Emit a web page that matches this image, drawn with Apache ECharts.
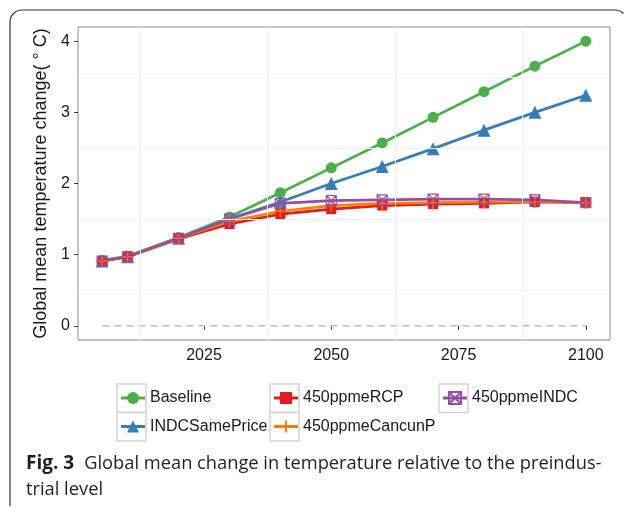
<!DOCTYPE html>
<html>
<head>
<meta charset="utf-8">
<script src="https://cdn.jsdelivr.net/npm/echarts@6/dist/echarts.min.js"></script>
<style>
  html, body { margin: 0; padding: 0; background: #fff; }
  #chart { width: 630px; height: 509px; }
</style>
</head>
<body>
<div id="chart"></div>
<script>
const years = [2005, 2010, 2020, 2030, 2040, 2050, 2060, 2070, 2080, 2090, 2100]
const baseline = [0.92, 0.98, 1.24, 1.53, 1.87, 2.22, 2.57, 2.93, 3.29, 3.65, 4.0]
const indcSamePrice = [0.91, 0.97, 1.23, 1.50, 1.74, 2.00, 2.24, 2.49, 2.75, 3.00, 3.24]
const rcp450 = [0.91, 0.97, 1.22, 1.43, 1.57, 1.64, 1.69, 1.71, 1.72, 1.74, 1.73]
const cancunP450 = [0.91, 0.97, 1.23, 1.47, 1.61, 1.69, 1.72, 1.73, 1.74, 1.74, 1.73]
const indc450 = [0.91, 0.97, 1.23, 1.50, 1.72, 1.76, 1.77, 1.78, 1.78, 1.77, 1.73]
const zeroLine = [[2005, 0], [2100, 0]]

const xTicks = [2025, 2050, 2075, 2100]
const yTicks = [0, 1, 2, 3, 4]
const xMinorGrid = [2012.5, 2037.5, 2062.5, 2087.5]
const yMinorGrid = [0.5, 1.5, 2.5, 3.5]

const legendCol1 = ['Baseline', 'INDCSamePrice']
const legendCol2 = ['450ppmeRCP', '450ppmeCancunP']
const legendCol3 = ['450ppmeINDC']

const caption = 'Global mean change in temperature relative to the preindus-'
const caption2 = 'trial level'

const font = 'Liberation Sans, Arial, sans-serif'
const capFont = 'Open Sans, sans-serif'
const pair = (vals) => years.map((y, i) => [y, vals[i]])

const chart = echarts.init(document.getElementById('chart'))

const lineSeries = (name, vals, color, symbol, size, itemStyle) => ({
    name: name,
    type: 'line',
    data: pair(vals),
    symbol: symbol,
    symbolSize: size,
    color: color,
    lineStyle: { color: color, width: 2.7 },
    itemStyle: itemStyle || { color: color },
    emphasis: { disabled: true }
})

const legendBase = {
    orient: 'vertical',
    itemWidth: 24,
    itemHeight: 15,
    itemGap: 8.5,
    itemTextGap: 6,
    padding: 0,
    top: 388,
    lineStyle: { width: 3 },
    textStyle: { fontFamily: font, fontSize: 16, color: '#1a1a1a', lineHeight: 20 }
}

const keyBox = (x, y) => ({
    type: 'rect', z: 0, silent: true,
    shape: { x: x, y: y, width: 29, height: 28.5 },
    style: { fill: '#fff', stroke: '#d4d4d4', lineWidth: 1.5 }
})

const frameStyle = { fill: 'none', stroke: '#333', lineWidth: 1.2 }

const option = {
    backgroundColor: '#fff',
    animation: false,
    grid: {
        left: 78, top: 27, right: 20, bottom: 169,
        show: true, borderColor: '#8c8c8c', borderWidth: 1
    },
    xAxis: {
        type: 'value',
        min: 2000.25,
        max: 2104.75,
        axisLine: { show: false },
        splitLine: { show: false },
        axisTick: { show: true, length: 4, customValues: xTicks, lineStyle: { color: '#333' } },
        axisLabel: {
            customValues: xTicks, margin: 8,
            formatter: v => String(v),
            fontFamily: font, fontSize: 16, color: '#1a1a1a'
        }
    },
    yAxis: {
        type: 'value',
        min: -0.2,
        max: 4.2,
        name: 'Global mean temperature change( \u00b0 C)',
        nameLocation: 'middle',
        nameGap: 24,
        nameTextStyle: { fontFamily: font, fontSize: 18, color: '#1a1a1a' },
        axisLine: { show: false },
        splitLine: { show: false },
        axisTick: { show: true, length: 4, customValues: yTicks, lineStyle: { color: '#333' } },
        axisLabel: {
            customValues: yTicks, margin: 8,
            fontFamily: font, fontSize: 16, color: '#1a1a1a'
        }
    },
    legend: [
        Object.assign({}, legendBase, { left: 119.5, data: legendCol1 }),
        Object.assign({}, legendBase, { left: 272.5, data: legendCol2 }),
        Object.assign({}, legendBase, { left: 441.5, data: legendCol3 })
    ],
    graphic: [
        // figure frame: left edge, top edge, rounded corners
        { type: 'line', silent: true, z: 0, shape: { x1: 10, y1: 22, x2: 10, y2: 506 }, style: frameStyle },
        { type: 'line', silent: true, z: 0, shape: { x1: 22, y1: 10, x2: 615, y2: 10 }, style: frameStyle },
        { type: 'arc', silent: true, z: 0, shape: { cx: 22, cy: 22, r: 12, startAngle: Math.PI, endAngle: Math.PI * 1.5 }, style: frameStyle },
        { type: 'arc', silent: true, z: 0, shape: { cx: 615, cy: 22, r: 12, startAngle: -Math.PI / 2, endAngle: -Math.PI / 4 }, style: frameStyle },
        // legend key boxes
        keyBox(117, 384), keyBox(117, 412.5),
        keyBox(270, 384), keyBox(270, 412.5),
        keyBox(439, 384),
        // caption
        {
            type: 'text', left: 26, top: 454, silent: true,
            style: {
                text: '{b|Fig. 3}{r|' + caption + '}\n{r|' + caption2 + '}',
                rich: {
                    b: { fontFamily: capFont, fontWeight: 'bold', fontSize: 19, lineHeight: 26, fill: '#231f20', padding: [0, 10, 0, 0] },
                    r: { fontFamily: capFont, fontSize: 18.3, lineHeight: 26, fill: '#231f20' }
                }
            }
        }
    ],
    series: [
        {
            name: 'zero',
            type: 'line',
            data: zeroLine,
            symbol: 'none',
            lineStyle: { color: '#bdbdbd', width: 1.5, type: [7, 5] },
            silent: true,
            z: 1,
            markLine: {
                silent: true,
                symbol: 'none',
                label: { show: false },
                lineStyle: { color: '#f2f2f2', width: 1, type: 'solid' },
                data: xMinorGrid.map(v => ({ xAxis: v })).concat(yMinorGrid.map(v => ({ yAxis: v })))
            }
        },
        lineSeries('Baseline', baseline, '#4DAF4A', 'circle', 11),
        lineSeries('INDCSamePrice', indcSamePrice, '#377EB8', 'triangle', 13),
        lineSeries('450ppmeRCP', rcp450, '#E41A1C', 'rect', 10),
        lineSeries('450ppmeCancunP', cancunP450, '#FF7F00', 'path://M5,0L5,10M0,5L10,5', 12,
            { color: 'rgba(0,0,0,0)', borderColor: '#FF7F00', borderWidth: 1.5 }),
        lineSeries('450ppmeINDC', indc450, '#984EA3', 'path://M0,0L10,0L10,10L0,10ZM0,0L10,10M10,0L0,10', 10,
            { color: 'rgba(0,0,0,0)', borderColor: '#984EA3', borderWidth: 1.2 })
    ]
}

chart.setOption(option)
</script>
</body>
</html>
